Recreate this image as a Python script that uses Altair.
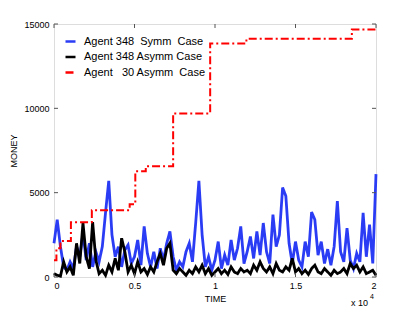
import altair as alt
import pandas as pd

# ---- data ----
times = list(range(0, 20001, 200))

blue_vals = [2000, 3400, 1800, 600, 400, 900, 500, 1800, 1200, 2600,
             1000, 2000, 600, 1500, 900, 1800, 3800, 5700, 2500, 1200,
             1800, 600, 1600, 1900, 800, 1200, 2200, 700, 3000, 1400,
             600, 1500, 500, 1700, 1000, 2000, 2700, 1200, 400, 900,
             600, 1500, 2000, 900, 3200, 5700, 2500, 600, 1200, 400,
             1000, 2100, 500, 1300, 700, 2200, 1000, 1700, 3000, 800,
             1500, 2400, 1100, 2700, 1300, 3200, 1500, 800, 3700, 1800,
             2500, 5300, 4800, 2000, 800, 2100, 1000, 600, 2100, 1200,
             3850, 3400, 1300, 2100, 800, 1650, 700, 1800, 4500, 1500,
             900, 2900, 1000, 500, 1400, 900, 3800, 1200, 3100, 800,
             6100]

black_vals = [200, 100, 50, 900, 300, 600, 100, 2000, 800, 3200,
              1200, 500, 3250, 1000, 200, 400, 100, 700, 300, 1100,
              400, 2300, 1500, 300, 700, 200, 900, 300, 500, 150,
              600, 300, 900, 1400, 700, 1700, 2000, 400, 200, 500,
              300, 100, 400, 200, 600, 300, 700, 200, 500, 100,
              300, 500, 200, 400, 150, 600, 300, 200, 500, 300,
              400, 200, 700, 400, 900, 500, 300, 600, 200, 800,
              400, 300, 600, 400, 1100, 300, 500, 200, 400, 150,
              500, 700, 300, 200, 500, 300, 100, 400, 200, 300,
              500, 200, 800, 500, 700, 300, 600, 200, 300, 400,
              100]

red_times = [0, 150, 400, 1050, 2350, 4700, 5050, 5700, 7400, 9700, 11950, 18500, 20000]
red_vals = [1000, 1700, 2130, 3250, 3960, 4320, 6270, 6570, 9700, 13850, 14120, 14670, 14670]

S1 = "Agent 348\u00a0\u00a0Symm\u00a0\u00a0Case"
S2 = "Agent 348 Asymm Case"
S3 = "Agent\u00a0\u00a0\u00a030 Asymm\u00a0\u00a0Case"
series = [S1, S2, S3]
colors = ["#2b3cf5", "#000000", "#ff0000"]
dashes = [[1, 0], [1, 0], [8, 3, 2, 3]]

x_ticks = [0, 5000, 10000, 15000, 20000]
y_ticks = [0, 5000, 10000, 15000]

W, H = 322, 253
FONT = "Liberation Sans"

df_blue = pd.DataFrame({"time": times, "money": blue_vals, "series": S1})
df_black = pd.DataFrame({"time": times, "money": black_vals, "series": S2})
df_red = pd.DataFrame({"time": red_times, "money": red_vals, "series": S3})

xscale = alt.Scale(domain=[0, 20000], nice=False, zero=False)
yscale = alt.Scale(domain=[0, 15000], nice=False)

color = alt.Color("series:N", title=None,
                  scale=alt.Scale(domain=series, range=colors),
                  legend=alt.Legend(orient="none", legendX=10, legendY=11,
                                    symbolType="stroke", symbolSize=100,
                                    symbolStrokeWidth=2.5, labelFontSize=11,
                                    labelFont=FONT, rowPadding=3.5, labelOffset=7,
                                    labelColor="black", padding=0))
dash = alt.StrokeDash("series:N", title=None,
                      scale=alt.Scale(domain=series, range=dashes))

xenc = alt.X("time:Q", scale=xscale,
             axis=alt.Axis(values=x_ticks, labelExpr="datum.value/10000",
                           title="TIME", ticks=False, domain=False, grid=False,
                           labelFontSize=9, labelFont=FONT, labelPadding=4,
                           titleFontSize=9, titleFont=FONT, titleFontWeight="normal",
                           titlePadding=4, labelColor="black", titleColor="black"))
yenc = alt.Y("money:Q", scale=yscale,
             axis=alt.Axis(values=y_ticks, format="d", title="MONEY", ticks=False,
                           domain=False, grid=False, labelFontSize=9, labelFont=FONT,
                           labelPadding=5, titleFontSize=9, titleFont=FONT,
                           titleFontWeight="normal", titlePadding=5,
                           labelColor="black", titleColor="black"))

blue = alt.Chart(df_blue).mark_line(strokeWidth=2.8).encode(
    x=xenc, y=yenc, color=color, strokeDash=dash)
black = alt.Chart(df_black).mark_line(strokeWidth=2.8).encode(
    x="time:Q", y="money:Q", color=color, strokeDash=dash)
red = alt.Chart(df_red).mark_line(strokeWidth=2, interpolate="step-after").encode(
    x="time:Q", y="money:Q", color=color, strokeDash=dash)

dfx = pd.DataFrame({"t": x_ticks})
dfy = pd.DataFrame({"v": y_ticks})
tick_col = "#555555"
tl = 4
xt_bot = alt.Chart(dfx).mark_rule(color=tick_col).encode(
    x="t:Q", y=alt.value(H), y2=alt.value(H - tl))
xt_top = alt.Chart(dfx).mark_rule(color=tick_col).encode(
    x="t:Q", y=alt.value(0), y2=alt.value(tl))
yt_left = alt.Chart(dfy).mark_rule(color=tick_col).encode(
    y="v:Q", x=alt.value(0), x2=alt.value(tl))
yt_right = alt.Chart(dfy).mark_rule(color=tick_col).encode(
    y="v:Q", x=alt.value(W), x2=alt.value(W - tl))

mult = alt.Chart(pd.DataFrame({"s": ["x 10"]})).mark_text(
    align="right", baseline="alphabetic", fontSize=9, font=FONT, color="black").encode(
    text="s:N", x=alt.value(314), y=alt.value(282))
expo = alt.Chart(pd.DataFrame({"s": ["4"]})).mark_text(
    align="left", baseline="alphabetic", fontSize=7, font=FONT, color="black").encode(
    text="s:N", x=alt.value(316), y=alt.value(275))

chart = alt.layer(blue, black, red, xt_bot, xt_top, yt_left, yt_right, mult, expo).properties(
    width=W, height=H,
    autosize=alt.AutoSizeParams(type="none"),
    padding={"left": 46, "top": 16, "right": 30, "bottom": 40},
).configure_view(stroke="black", strokeWidth=1.2).configure(background="white")

chart.save("out.html", embed_options={"renderer": "svg", "actions": False})
